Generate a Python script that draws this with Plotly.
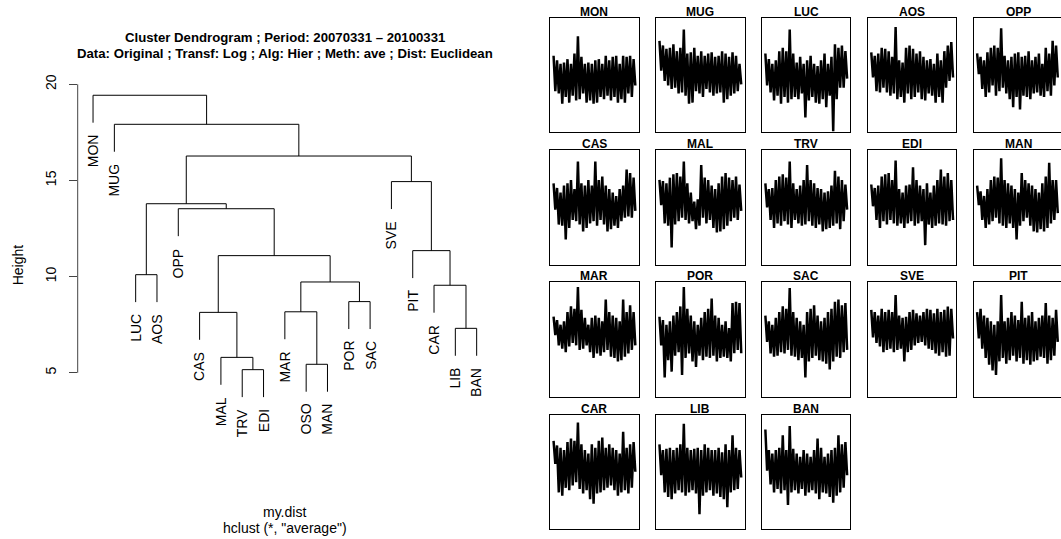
import plotly.graph_objects as go

W, H = 1061, 539

# ---------------- Dendrogram data ----------------
leaf_order = ["MON", "MUG", "LUC", "AOS", "OPP", "CAS", "MAL", "TRV", "EDI", "MAR",
              "OSO", "MAN", "POR", "SAC", "SVE", "PIT", "CAR", "LIB", "BAN"]
merge_left = ["TRV", "OSO", "MAL", "LIB", "CAS", "MAR", "POR", "CAR", "c6", "LUC",
              "c5", "PIT", "OPP", "c10", "SVE", "c14", "MUG", "MON"]
merge_right = ["EDI", "MAN", "c1", "BAN", "c3", "c2", "SAC", "c4", "c7", "AOS",
               "c9", "c8", "c11", "c13", "c12", "c15", "c16", "c17"]
merge_height = [5.16, 5.44, 5.80, 7.31, 8.14, 8.17, 8.70, 9.55, 9.72, 10.10,
                11.09, 11.35, 13.53, 13.79, 14.94, 16.27, 17.92, 19.43]
hang = 0.1
height_ticks = [5, 10, 15, 20]

# ---------------- Series panels (hi / lo envelope per time bin, 0-100 scale) ----------------
panel_order = ["MON", "MUG", "LUC", "AOS", "OPP",
               "CAS", "MAL", "TRV", "EDI", "MAN",
               "MAR", "POR", "SAC", "SVE", "PIT",
               "CAR", "LIB", "BAN"]

mon_hi = [67, 63, 60, 61, 64, 60, 69, 84, 66, 60, 61, 60, 63, 64, 60, 67, 63, 66, 67, 60, 67, 66, 67, 64]
mon_lo = [36, 34, 25, 31, 26, 32, 28, 29, 34, 26, 28, 25, 26, 31, 29, 32, 28, 31, 26, 29, 26, 34, 31, 41]
mug_hi = [80, 76, 73, 74, 77, 71, 74, 90, 69, 70, 74, 67, 71, 67, 69, 70, 66, 67, 71, 69, 66, 70, 67, 60]
mug_lo = [54, 45, 41, 38, 39, 34, 35, 32, 25, 26, 36, 34, 31, 38, 35, 32, 34, 35, 26, 29, 32, 34, 36, 42]
luc_hi = [69, 64, 60, 63, 71, 74, 71, 90, 69, 61, 66, 60, 63, 67, 60, 58, 63, 69, 60, 66, 77, 74, 76, 71]
luc_lo = [41, 35, 28, 32, 25, 31, 26, 29, 31, 29, 34, 13, 28, 31, 26, 25, 29, 22, 32, 1, 29, 39, 39, 47]
aos_hi = [70, 67, 69, 74, 73, 71, 66, 92, 63, 61, 74, 76, 73, 69, 71, 66, 63, 64, 60, 69, 63, 71, 76, 79]
aos_lo = [48, 36, 35, 39, 35, 32, 34, 29, 31, 26, 34, 29, 31, 35, 29, 28, 34, 32, 26, 31, 26, 39, 45, 48]
opp_hi = [69, 66, 63, 70, 74, 76, 74, 91, 67, 63, 66, 69, 70, 66, 67, 71, 63, 66, 69, 60, 74, 69, 80, 76]
opp_lo = [51, 38, 31, 35, 41, 32, 36, 39, 34, 29, 22, 31, 20, 32, 31, 29, 34, 35, 32, 31, 36, 32, 41, 48]
cas_hi = [71, 67, 63, 69, 71, 74, 66, 90, 71, 69, 74, 69, 90, 74, 77, 69, 66, 63, 60, 66, 69, 83, 80, 76]
cas_lo = [48, 35, 34, 22, 32, 39, 38, 35, 29, 32, 36, 38, 34, 39, 35, 29, 31, 34, 32, 38, 41, 42, 41, 47]
mal_hi = [74, 73, 71, 76, 79, 80, 77, 90, 71, 63, 55, 57, 87, 76, 74, 69, 66, 71, 77, 80, 76, 74, 77, 70]
mal_lo = [52, 36, 34, 15, 35, 38, 41, 39, 36, 38, 31, 34, 41, 36, 39, 32, 28, 29, 31, 34, 38, 41, 39, 47]
trv_hi = [71, 66, 67, 74, 77, 79, 76, 90, 71, 66, 69, 74, 87, 74, 71, 67, 66, 63, 64, 69, 82, 77, 74, 70]
trv_lo = [50, 39, 32, 36, 34, 38, 35, 32, 39, 36, 34, 35, 38, 34, 32, 35, 29, 31, 32, 34, 36, 31, 38, 48]
edi_hi = [70, 67, 69, 77, 79, 80, 74, 91, 66, 63, 69, 70, 85, 74, 69, 66, 71, 63, 69, 74, 83, 77, 80, 74]
edi_lo = [51, 39, 32, 38, 35, 39, 36, 34, 36, 32, 36, 38, 34, 36, 38, 17, 35, 32, 34, 36, 35, 34, 38, 39]
man_hi = [69, 64, 60, 66, 74, 77, 76, 93, 74, 71, 69, 66, 63, 80, 74, 71, 69, 66, 63, 71, 77, 89, 74, 74]
man_lo = [52, 39, 32, 35, 38, 41, 36, 34, 32, 36, 32, 22, 34, 38, 41, 34, 29, 28, 31, 29, 32, 36, 39, 45]
mar_hi = [70, 67, 63, 66, 74, 79, 77, 96, 76, 69, 63, 69, 71, 69, 66, 85, 74, 71, 69, 66, 85, 74, 80, 74]
mar_lo = [54, 45, 42, 39, 44, 47, 45, 41, 42, 45, 39, 34, 38, 36, 39, 41, 35, 34, 31, 32, 35, 38, 41, 45]
por_hi = [70, 67, 63, 66, 71, 74, 79, 96, 77, 71, 66, 63, 69, 74, 77, 86, 71, 69, 63, 66, 60, 82, 83, 82]
por_lo = [45, 17, 32, 22, 36, 39, 19, 34, 38, 31, 26, 36, 32, 35, 34, 36, 31, 34, 35, 34, 31, 38, 41, 38]
sac_hi = [71, 66, 63, 69, 74, 79, 77, 95, 74, 69, 66, 63, 74, 77, 80, 71, 66, 69, 74, 77, 83, 85, 80, 82]
sac_lo = [48, 38, 35, 36, 39, 38, 41, 36, 35, 32, 34, 17, 31, 34, 36, 32, 31, 29, 24, 31, 35, 34, 39, 41]
sve_hi = [76, 74, 71, 77, 74, 76, 74, 89, 71, 69, 70, 74, 76, 73, 71, 74, 77, 76, 73, 77, 74, 76, 79, 77]
sve_lo = [52, 47, 44, 39, 41, 42, 39, 41, 42, 31, 39, 41, 45, 47, 48, 45, 42, 41, 38, 36, 39, 35, 36, 51]
pit_hi = [74, 77, 71, 69, 66, 63, 66, 89, 66, 69, 74, 71, 67, 83, 69, 71, 74, 66, 69, 71, 82, 71, 69, 76]
pit_lo = [51, 42, 34, 28, 23, 19, 31, 34, 29, 32, 36, 31, 34, 29, 32, 28, 31, 32, 35, 34, 29, 32, 36, 48]
car_hi = [77, 73, 71, 69, 76, 79, 77, 93, 74, 69, 66, 74, 71, 77, 80, 71, 74, 71, 69, 66, 85, 71, 74, 76]
car_lo = [57, 32, 29, 36, 34, 38, 41, 35, 31, 34, 26, 22, 31, 32, 34, 36, 38, 34, 29, 32, 34, 31, 36, 50]
lib_hi = [74, 69, 70, 71, 69, 71, 74, 92, 71, 69, 70, 71, 69, 74, 71, 69, 69, 71, 67, 74, 69, 82, 71, 69]
lib_lo = [47, 32, 28, 26, 31, 34, 32, 29, 32, 34, 31, 13, 29, 32, 34, 29, 31, 28, 26, 19, 32, 34, 35, 45]
ban_hi = [87, 69, 66, 69, 71, 82, 69, 90, 70, 66, 63, 69, 66, 63, 69, 79, 71, 63, 66, 69, 71, 82, 74, 76]
ban_lo = [51, 39, 32, 35, 31, 34, 21, 32, 34, 31, 35, 29, 32, 34, 31, 26, 32, 31, 28, 23, 29, 32, 36, 47]

series = {
    "MON": (mon_hi, mon_lo), "MUG": (mug_hi, mug_lo), "LUC": (luc_hi, luc_lo),
    "AOS": (aos_hi, aos_lo), "OPP": (opp_hi, opp_lo), "CAS": (cas_hi, cas_lo),
    "MAL": (mal_hi, mal_lo), "TRV": (trv_hi, trv_lo), "EDI": (edi_hi, edi_lo),
    "MAN": (man_hi, man_lo), "MAR": (mar_hi, mar_lo), "POR": (por_hi, por_lo),
    "SAC": (sac_hi, sac_lo), "SVE": (sve_hi, sve_lo), "PIT": (pit_hi, pit_lo),
    "CAR": (car_hi, car_lo), "LIB": (lib_hi, lib_lo), "BAN": (ban_hi, ban_lo),
}

FONT = "Liberation Sans, Arial, Helvetica, sans-serif"

fig = go.Figure()
annotations = []
layout = dict(
    width=W, height=H, margin=dict(l=0, r=0, t=0, b=0, autoexpand=False),
    paper_bgcolor="white", plot_bgcolor="white", showlegend=False,
    font=dict(family=FONT, color="black", size=14),
)

# ---------------- Dendrogram ----------------
cx = {name: i + 1 for i, name in enumerate(leaf_order)}
cy = {}
span = max(merge_height) - min(merge_height)
leaf_bottom = {}
xs, ys = [], []
for k, (a, b, h) in enumerate(zip(merge_left, merge_right, merge_height), start=1):
    ends = []
    for c in (a, b):
        if c in cy:
            ends.append(cy[c])
        else:
            leaf_bottom[c] = h - hang * span
            ends.append(leaf_bottom[c])
    xs += [cx[a], cx[a], cx[b], cx[b], None]
    ys += [ends[0], h, h, ends[1], None]
    cid = "c%d" % k
    cx[cid] = (cx[a] + cx[b]) / 2.0
    cy[cid] = h

fig.add_trace(go.Scatter(x=xs, y=ys, mode="lines", line=dict(color="black", width=1),
                         hoverinfo="skip", xaxis="x", yaxis="y"))

n = len(leaf_order)
pad = 0.04 * (n - 1)
X_L, X_R = 77.7, 492.0
Y20_PX, PX_PER_UNIT = 84.3, 19.23
Y_T, Y_B = 83.0, 447.0
y_hi = 20 - (Y_T - Y20_PX) / PX_PER_UNIT
y_lo = 20 - (Y_B - Y20_PX) / PX_PER_UNIT

layout["xaxis"] = dict(domain=[X_L / W, X_R / W], range=[1 - pad, n + pad], visible=False)
layout["yaxis"] = dict(domain=[(H - Y_B) / H, (H - Y_T) / H], range=[y_lo, y_hi],
                       showgrid=False, zeroline=False, showline=False,
                       ticks="outside", ticklen=8, tickcolor="#444", tickwidth=1,
                       tickvals=height_ticks, ticktext=[str(t) for t in height_ticks],
                       tickangle=-90, ticklabelstandoff=7,
                       tickfont=dict(size=14, family=FONT, color="black"),
                       anchor="x")

shapes = [dict(type="line", xref="paper", yref="y", x0=X_L / W, x1=X_L / W,
               y0=min(height_ticks), y1=max(height_ticks), line=dict(color="#444", width=1))]

for leaf in leaf_order:
    annotations.append(dict(x=cx[leaf], y=leaf_bottom[leaf], xref="x", yref="y",
                            text=leaf, textangle=-90, showarrow=False,
                            xanchor="center", yanchor="top", yshift=-10,
                            font=dict(size=14, family=FONT, color="black")))

xc = (X_L + X_R) / 2 / W
def txt(x, y, s, size=14, angle=0):
    return dict(x=x, y=y, xref="paper", yref="paper", showarrow=False, text=s,
                xanchor="center", yanchor="middle", textangle=angle,
                font=dict(size=size, family=FONT, color="black"))

annotations += [
    txt(xc, 1 - 37.7 / H, "<b>Cluster Dendrogram ; Period: 20070331 \u2013 20100331</b>", 13.2),
    txt(xc, 1 - 53.3 / H, "<b>Data: Original ; Transf: Log ; Alg: Hier ; Meth: ave ; Dist: Euclidean</b>", 13.2),
    txt(xc, 1 - 511.7 / H, "my.dist"),
    txt(xc, 1 - 528.3 / H, 'hclust (*, "average")'),
    txt(18.3 / W, 1 - 265 / H, "Height", 14, -90),
]

# ---------------- Small multiples ----------------
P_W, P_H = 88.3, 114.4
for i, name in enumerate(panel_order):
    r, c = divmod(i, 5)
    L = 550.3 + 105.9 * c
    T = 18.0 + 132.2 * r
    hi, lo = series[name]
    zx, zy = [], []
    for j, (a, b) in enumerate(zip(hi, lo)):
        zx += [j, j + 0.5]
        zy += [a, b]
    k = i + 2
    fig.add_trace(go.Scatter(x=zx, y=zy, mode="lines", line=dict(color="black", width=2.5),
                             hoverinfo="skip", xaxis="x%d" % k, yaxis="y%d" % k))
    tmax = zx[-1]
    ax = dict(showline=True, mirror=True, linecolor="black", linewidth=1,
              showticklabels=False, ticks="", showgrid=False, zeroline=False)
    layout["xaxis%d" % k] = dict(ax, domain=[L / W, min((L + P_W) / W, 1.0)],
                                 range=[-0.04 * tmax, tmax * 1.04], anchor="y%d" % k)
    layout["yaxis%d" % k] = dict(ax, domain=[(H - T - P_H) / H, (H - T) / H],
                                 range=[0, 100], anchor="x%d" % k)
    annotations.append(dict(x=(L + P_W / 2) / W, y=(H - T) / H, xref="paper", yref="paper",
                            text="<b>%s</b>" % name, showarrow=False, xanchor="center",
                            yanchor="bottom", yshift=-3,
                            font=dict(size=12, family=FONT, color="black")))

layout["annotations"] = annotations
layout["shapes"] = shapes
fig.update_layout(**layout)
fig.write_html("out.html")
